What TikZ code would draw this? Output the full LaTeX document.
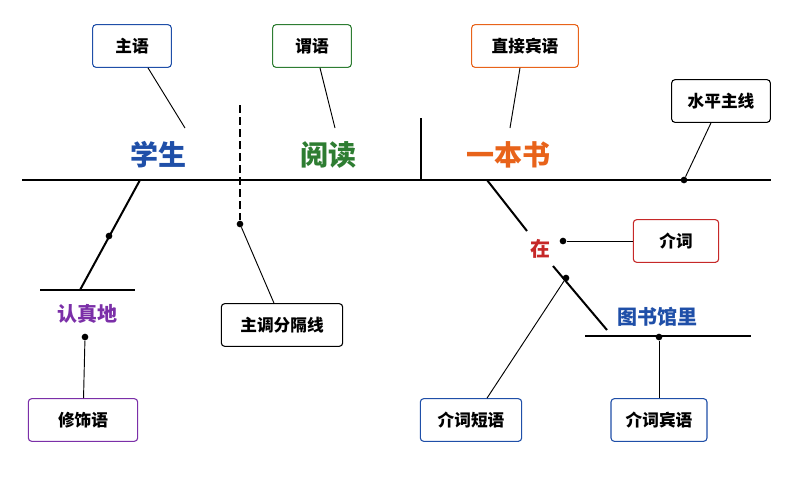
\documentclass[tikz,border=0pt]{standalone}
\usepackage{fontspec}
\usetikzlibrary{calc}
\setmainfont{Noto Sans CJK SC}
\begin{document}
\definecolor{cb}{HTML}{1F4FA8}\definecolor{cg}{HTML}{2E7D32}
\definecolor{co}{HTML}{E8631A}\definecolor{cr}{HTML}{C62828}
\definecolor{cp}{HTML}{7B2FA8}
\begin{tikzpicture}[x=0.75pt,y=-0.75pt,
  box/.style={draw=#1,line width=0.8pt,rounded corners=2.5pt,fill=white,minimum height=32pt,inner xsep=8pt,font=\fontsize{12.5}{14}\selectfont\bfseries,text=black},
  big/.style={text=#1,font=\fontsize{21}{24}\selectfont\bfseries},
  mid/.style={text=#1,font=\fontsize{15}{18}\selectfont\bfseries},
  ln/.style={line width=0.7pt},
  thick/.style={line width=2pt},
  mthick/.style={line width=1.5pt},
  dot/.style={circle,fill=black,inner sep=0pt,minimum size=5pt}]
\useasboundingbox (0,0) rectangle (800,480);
\coordinate (mL) at (22,180); \coordinate (mR) at (771,180);
\draw[thick] (mL) -- (mR);
\coordinate (dT) at (240,105); \node[dot] (dd) at (240,224) {};
\draw[thick,dash pattern=on 6pt off 3pt] (dT) -- (dd);
\coordinate (sT) at (421,118); \coordinate (sB) at (421,180);
\draw[thick] (sT) -- (sB);
\node[big=cb] (xs) at (158,155) {学生};
\node[big=cg] (yd) at (328,155) {阅读};
\node[big=co] (ybs) at (508,155) {一本书};
\node[box=cb,minimum width=59pt] (zy) at (132,46) {主语};
\node[box=cg,minimum width=59pt] (wy) at (312,46) {谓语};
\node[box=co,minimum width=80pt] (zjby) at (525,46) {直接宾语};
\node[box=black,minimum width=74pt] (spzx) at (721,101) {水平主线};
\node[box=cr,minimum width=64pt] (jc) at (676,241) {介词};
\node[box=black,minimum width=91pt] (fgx) at (282,325) {主调分隔线};
\node[box=cp,minimum width=82pt] (xsy) at (83,420) {修饰语};
\node[box=cb,minimum width=76pt] (jcdy) at (471,420) {介词短语};
\node[box=cb,minimum width=72pt] (jcby) at (659,420) {介词宾语};
\coordinate (a1) at (185,128); \draw[ln] ($(zy.south)+(16,0)$) -- (a1);
\coordinate (a2) at (335,128); \draw[ln] ($(wy.south)+(8,0)$) -- (a2);
\coordinate (a3) at (510,128); \draw[ln] ($(zjby.south)+(-5,0)$) -- (a3);
\node[dot] (d4) at (684,180) {}; \draw[ln] ($(spzx.south)+(-10,0)$) -- (d4);
\coordinate (b0) at (140,180); \coordinate (b1) at (80,290);
\draw[mthick] (b0) -- (b1);
\node[dot] at (109,236) {};
\coordinate (h1) at (40,290); \coordinate (h2) at (135,290);
\draw[mthick] (h1) -- (h2);
\node[mid=cp] (rzd) at (87,314) {认真地};
\node[dot] (d5) at (85,337) {}; \draw[ln] (d5) -- (xsy);
\draw[ln] (dd) -- ($(fgx.north)+(-8,0)$);
\node[mid=cr] (zai) at (540,249) {在};
\coordinate (p0) at (487,180); \coordinate (p1) at (607,330);
\coordinate (q1) at (527,231); \coordinate (q2) at (553,266);
\draw[mthick] (p0) -- (q1);
\draw[mthick] (q2) -- (p1);
\node[dot] (d6) at (563,241) {}; \draw[ln] (d6) -- (jc);
\node[dot] (d7) at (566,278) {}; \draw[ln] (d7) -- ($(jcdy.north)+(16,0)$);
\node[mid=cb] (tsgl) at (657,317) {图书馆里};
\coordinate (h3) at (585,336); \coordinate (h4) at (751,336);
\draw[mthick] (h3) -- (h4);
\node[dot] (d8) at (659,337) {}; \draw[ln] (d8) -- (jcby);
\end{tikzpicture}
\end{document}
